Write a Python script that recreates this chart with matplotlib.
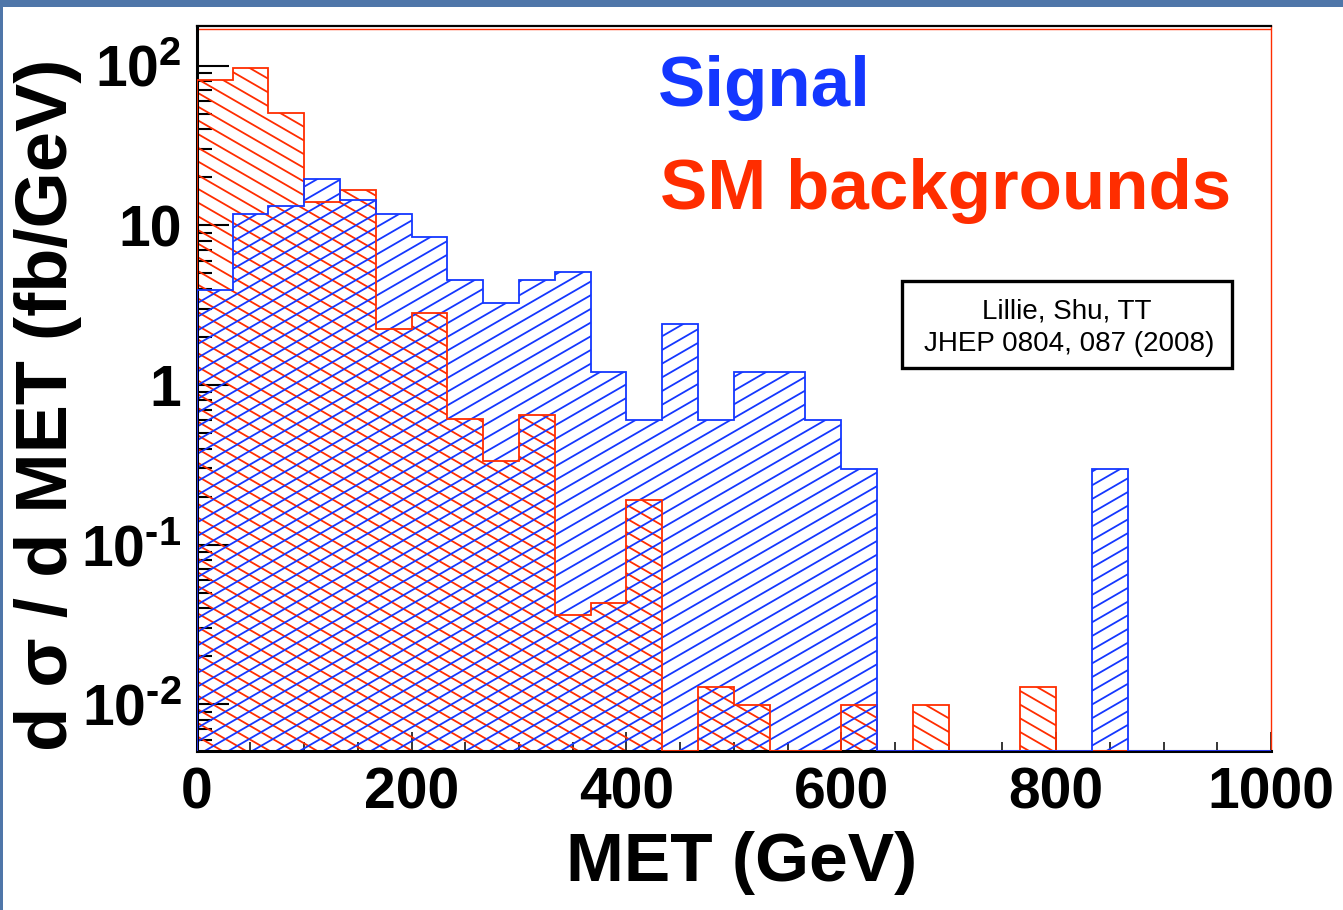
import numpy as np
import matplotlib
matplotlib.use("Agg")
import matplotlib.pyplot as plt
from matplotlib.collections import LineCollection
from matplotlib.patches import Polygon, Rectangle
from matplotlib.transforms import IdentityTransform
from matplotlib.lines import Line2D
from matplotlib.ticker import FixedLocator, FixedFormatter, MultipleLocator, LogLocator, NullFormatter

# MET bins (GeV), 30 bins of 33.3 GeV
edges = np.linspace(0, 1000, 31)

signal = [3.93, 11.7, 13.3, 19.6, 14.4, 11.8, 8.4, 4.53, 3.28, 4.53,
          5.09, 1.20, 0.60, 2.40, 0.60, 1.20, 1.20, 0.60, 0.297, 0,
          0, 0, 0, 0, 0, 0.297, 0, 0, 0, 0]

background = [81.6, 96.7, 50.2, 14.1, 16.7, 2.23, 2.84, 0.61, 0.334, 0.65,
              0.036, 0.043, 0.19, 0, 0.0128, 0.0099, 0, 0, 0.0099, 0,
              0.0099, 0, 0, 0.0128, 0, 0, 0, 0, 0, 0]

ytick_vals = [0.01, 0.1, 1, 10, 100]
ytick_labels = ["$10^{\u20102}$", "$10^{\u20101}$", "1", "10", r"$10^{2}$"]

ymin, ymax = 0.0051, 178
RED = "#ff2d00"
BLUE = "#1437ff"

plt.rcParams["font.family"] = ["Liberation Sans", "DejaVu Sans"]
plt.rcParams["mathtext.fontset"] = "custom"
plt.rcParams["mathtext.rm"] = "Liberation Sans:bold"
plt.rcParams["mathtext.bf"] = "Liberation Sans:bold"
plt.rcParams["mathtext.it"] = "Liberation Sans:bold:italic"

W, H = 1343, 910
fig = plt.figure(figsize=(W / 100, H / 100), dpi=100)
ax = fig.add_axes([196.7 / W, 1 - 751 / H, (1271 - 196.7) / W, (751 - 25.7) / H])
ax.set_yscale("log")


def hist_patch(vals):
    v = np.maximum(np.asarray(vals, float), ymin)
    pts = [(edges[0], ymin)]
    for i in range(len(v)):
        pts.append((edges[i], v[i]))
        pts.append((edges[i + 1], v[i]))
    pts.append((edges[-1], ymin))
    p = Polygon(pts, closed=True, facecolor="none", edgecolor="none", transform=ax.transData)
    ax.add_patch(p)
    return p


def hatch(patch, angle, spacing, color):
    # ROOT-like hatching: parallel lines in pixel space, clipped to the histogram
    t = np.tan(np.radians(angle))
    cs = np.arange(-W * abs(t) - H, H + W * abs(t), spacing)
    segs = [[(0, c), (W, c + t * W)] for c in cs]
    lc = LineCollection(segs, colors=color, linewidths=1.3, transform=IdentityTransform())
    ax.add_collection(lc, autolim=False)
    lc.set_clip_path(patch)


bg_patch = hist_patch(background)
sig_patch = hist_patch(signal)
hatch(bg_patch, -30, 13.7, RED)
hatch(sig_patch, 30, 13.7, BLUE)

ax.stairs(np.maximum(background, ymin), edges, baseline=ymin, color=RED, lw=1.3, zorder=3)
ax.stairs(np.maximum(signal, ymin), edges, baseline=ymin, color=BLUE, lw=1.3, zorder=3)

ax.set_xlim(0, 1000)
ax.set_ylim(ymin, ymax)

# axes / ticks
ax.xaxis.set_major_locator(MultipleLocator(200))
ax.xaxis.set_minor_locator(MultipleLocator(50))
ax.yaxis.set_major_locator(FixedLocator(ytick_vals))
ax.yaxis.set_major_formatter(FixedFormatter(ytick_labels))
ax.yaxis.set_minor_locator(LogLocator(base=10, subs=np.arange(2, 10)))
ax.yaxis.set_minor_formatter(NullFormatter())
ax.tick_params(axis="x", which="major", direction="in", length=13.7, width=1.1, labelsize=41, pad=11)
ax.tick_params(axis="x", which="minor", direction="in", length=6.5, width=1.1)
ax.tick_params(axis="y", which="major", direction="in", length=23, width=1.5, labelsize=41, pad=11)
ax.tick_params(axis="y", which="minor", direction="in", length=11, width=1.5)
for lab in ax.get_xticklabels() + ax.get_yticklabels():
    lab.set_fontweight("bold")

for side in ["left", "bottom"]:
    ax.spines[side].set_color("black")
    ax.spines[side].set_linewidth(2.2)
ax.spines["top"].set_color("black")
ax.spines["top"].set_linewidth(1.6)
ax.spines["right"].set_color(RED)
ax.spines["right"].set_linewidth(1.0)
ax.add_line(Line2D([0, 1], [0.996, 0.996], transform=ax.transAxes, color=RED, lw=1.0))

# labels
fig.text(48 / W, 1 - 405 / H, "d σ / d MET (fb/GeV)", rotation=90, ha="center", va="center",
         fontsize=52, fontweight="bold")
fig.text(742 / W, 1 - 881 / H, "MET (GeV)", ha="center", va="baseline", fontsize=50, fontweight="bold")

fig.text(658 / W, 1 - 106 / H, "Signal", color=BLUE, fontsize=51, fontweight="bold", va="baseline")
fig.text(660 / W, 1 - 209 / H, "SM backgrounds", color=RED, fontsize=51, fontweight="bold", va="baseline")

# reference box
fig.patches.append(Rectangle((902 / W, 1 - 368 / H), 330 / W, 87 / H, transform=fig.transFigure,
                             facecolor="white", edgecolor="black", lw=2.4, zorder=5))
fig.text(1067 / W, 1 - 318 / H, "Lillie, Shu, TT", ha="center", va="baseline", fontsize=20, zorder=6)
fig.text(1069 / W, 1 - 351 / H, "JHEP 0804, 087 (2008)", ha="center", va="baseline", fontsize=20, zorder=6)

# slide frame
fig.patches.append(Rectangle((0, 1 - 7 / H), 1, 7 / H, transform=fig.transFigure,
                             facecolor="#4f76a9", edgecolor="none"))
fig.patches.append(Rectangle((0, 0), 2.5 / W, 1, transform=fig.transFigure,
                             facecolor="#4f76a9", edgecolor="none"))

fig.savefig("out.png", dpi=100)
